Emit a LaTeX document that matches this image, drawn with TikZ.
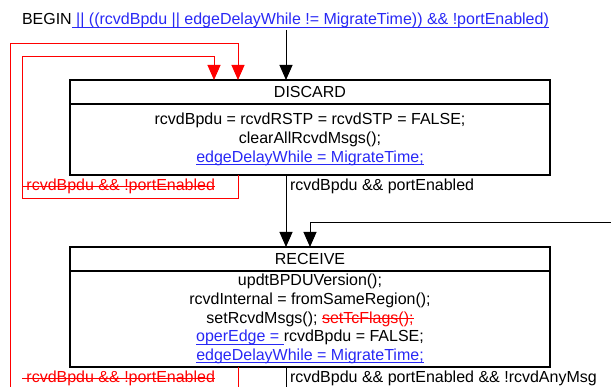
\documentclass[tikz,border=0pt]{standalone}
\usepackage{fontspec}
\setmainfont{Liberation Sans}
\usetikzlibrary{arrows.meta}
\definecolor{ublue}{RGB}{40,40,245}
\definecolor{sred}{RGB}{255,0,0}
\newcommand{\bluel}[1]{\textcolor{ublue}{\setbox0\hbox{#1}\rlap{\rule[-2.6pt]{\wd0}{0.9pt}}\box0}}
\newcommand{\redst}[1]{\textcolor{sred}{\setbox0\hbox{#1}\rlap{\rule[4.3pt]{\wd0}{0.9pt}}\box0}}
\begin{document}
\begin{tikzpicture}[x=1pt,y=-1pt,
  every node/.style={font=\fontsize{16}{18.8}\selectfont, inner sep=0pt, outer sep=0pt},
  statebox/.style={draw, line width=1.6pt, minimum width=480pt, align=center},
  conn/.style={line width=1pt},
  arr/.style={conn, -{Triangle[width=13pt,length=15pt]}},
  redconn/.style={draw=sred, line width=1pt},
  redarr/.style={redconn, -{Triangle[width=13pt,length=15pt]}}
]
\useasboundingbox (0,0) rectangle (611,387);

% states
\node[statebox, minimum height=24pt] (dtitle) at (310,92) {DISCARD};
\node[statebox, minimum height=71pt, anchor=north] (dbody) at (dtitle.south)
  {rcvdBpdu = rcvdRSTP = rcvdSTP = FALSE;\\ clearAllRcvdMsgs();\\ \bluel{edgeDelayWhile = MigrateTime;}};
\node[statebox, minimum height=24pt] (rtitle) at (310,259) {RECEIVE};
\node[statebox, minimum height=96pt, anchor=north] (rbody) at (rtitle.south)
  {updtBPDUVersion();\\ rcvdInternal = fromSameRegion();\\ setRcvdMsgs(); \redst{setTcFlags();}\\ \bluel{operEdge =\ }rcvdBpdu = FALSE;\\ \bluel{edgeDelayWhile = MigrateTime;}};

% begin
\node[anchor=base west] (begin) at (22,25) {BEGIN\bluel{\ || ((rcvdBpdu || edgeDelayWhile != MigrateTime)) \&\& !portEnabled)}};
\coordinate (b0) at (286,30);
\draw[arr] (b0) -- (b0 |- dtitle.north);

% red loops
\coordinate (i1) at (238,198.5);
\coordinate (i2) at (22,198.5);
\coordinate (i3) at (22,57);
\coordinate (i4) at (214,57);
\draw[redarr] (dbody.south -| i1) -- (i1) -- (i2) -- (i3) -- (i4) -- (dtitle.north -| i4);
\coordinate (o0) at (10,387);
\coordinate (o1) at (10,44);
\coordinate (o2) at (238,44);
\draw[redarr] (o0) -- (o1) -- (o2) -- (dtitle.north -| o2);
\coordinate (o3) at (238,387);
\draw[redconn] (rbody.south -| o3) -- (o3);

% black connectors
\draw[arr] (dbody.south -| b0) -- (rtitle.north -| b0);
\coordinate (e0) at (611,223);
\coordinate (e1) at (310,223);
\draw[arr] (e0) -- (e1) -- (rtitle.north -| e1);
\coordinate (b1) at (286,387);
\draw[conn] (rbody.south -| b1) -- (b1);

% labels
\node[anchor=base west] (l1) at (22,191) {\redst{\ rcvdBpdu \&\& !portEnabled}};
\node[anchor=base west] (l2) at (290,191) {rcvdBpdu \&\& portEnabled};
\node[anchor=base west] (l3) at (22,383) {\redst{\ rcvdBpdu \&\& !portEnabled}};
\node[anchor=base west] (l4) at (290,383) {rcvdBpdu \&\& portEnabled \&\& !rcvdAnyMsg};
\end{tikzpicture}
\end{document}
